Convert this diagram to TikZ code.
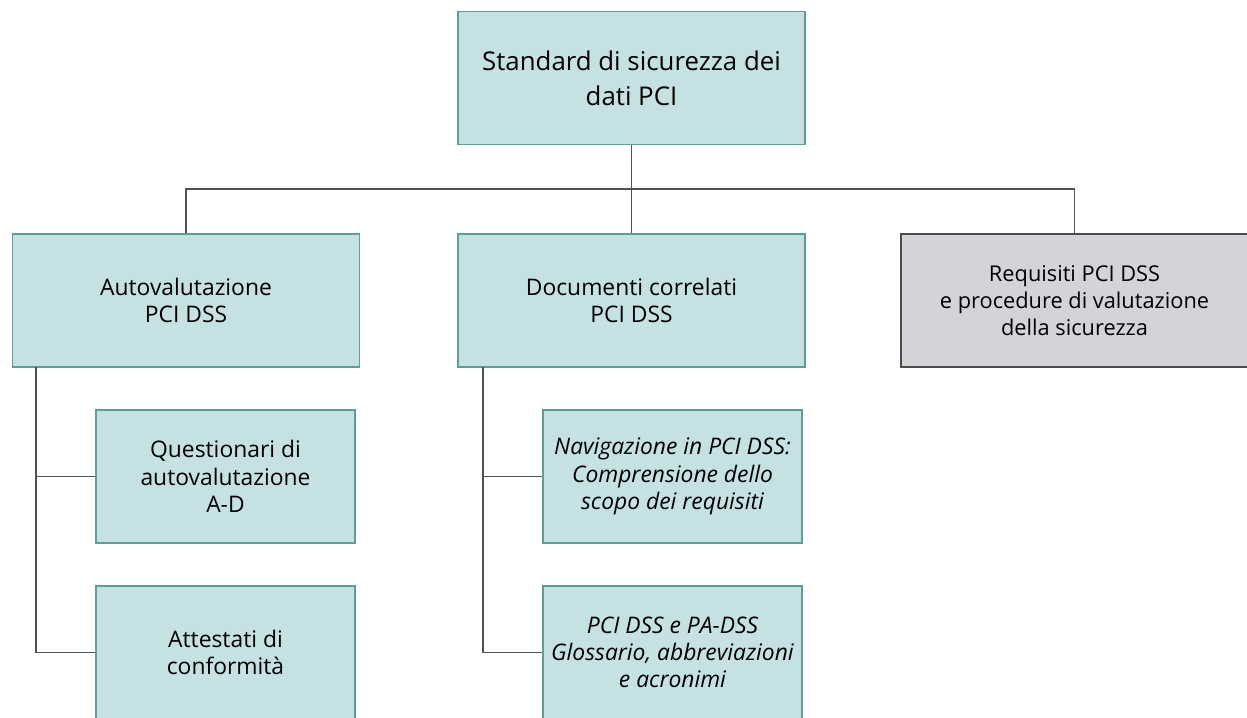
\documentclass[tikz,border=0pt]{standalone}
\usepackage{fontspec}
\setmainfont{Open Sans}
\usetikzlibrary{positioning}

\definecolor{boxfill}{RGB}{197,225,228}
\definecolor{boxline}{RGB}{95,158,148}
\definecolor{reqfill}{RGB}{211,212,216}
\definecolor{reqline}{RGB}{75,75,75}
\definecolor{wirecol}{RGB}{80,80,80}

\begin{document}
\begin{tikzpicture}[x=0.02cm,y=-0.02cm,every node/.style={align=center},
	docbox/.style={draw=boxline,fill=boxfill,line width=1pt,minimum width=6.94cm,minimum height=2.66cm,font=\fontsize{13}{15.5}\selectfont},
	subbox/.style={docbox,minimum width=5.18cm},
	reqbox/.style={docbox,draw=reqline,fill=reqfill,line width=1.1pt,font=\fontsize{12.4}{15.2}\selectfont},
	wire/.style={draw=wirecol,line width=0.8pt}]

	\useasboundingbox (0,0) rectangle (1247,717);

	\node [docbox,font=\fontsize{14.7}{20}\selectfont] at (631.5,78)	(pci)	{Standard di sicurezza dei\\dati PCI};
	\node [docbox] at (186,300.5)		(auto)		{Autovalutazione\\PCI DSS};
	\node [docbox] at (631.5,300.5)		(docs)		{Documenti correlati\\PCI DSS};
	\node [reqbox] at (1074.5,300.5)	(req)		{Requisiti PCI DSS\\e procedure di valutazione\\della sicurezza};

	\node [subbox] at (225.5,476.5)		(quest)		{Questionari di\\autovalutazione\\A-D};
	\node [subbox] at (225.5,652.5)		(attest)	{Attestati di\\conformità};
	\node [subbox,font=\fontsize{13}{15.5}\selectfont\itshape] at (672.5,476.5)	(nav)	{Navigazione in PCI DSS:\\Comprensione dello\\scopo dei requisiti};
	\node [subbox,font=\fontsize{13}{15.5}\selectfont\itshape] at (672.5,652.5)	(gloss)	{PCI DSS e PA-DSS\\Glossario, abbreviazioni\\e acronimi};

	\coordinate (bus)		at (631.5,189);
	\coordinate (autobar)	at (36,367);
	\coordinate (docsbar)	at (483,367);

	\draw [wire] (pci.south) -- (bus) -| (auto.north);
	\draw [wire] (bus) -- (docs.north);
	\draw [wire] (bus) -| (req.north);
	\draw [wire] (autobar) |- (quest.west);
	\draw [wire] (autobar) |- (attest.west);
	\draw [wire] (docsbar) |- (nav.west);
	\draw [wire] (docsbar) |- (gloss.west);

\end{tikzpicture}
\end{document}
